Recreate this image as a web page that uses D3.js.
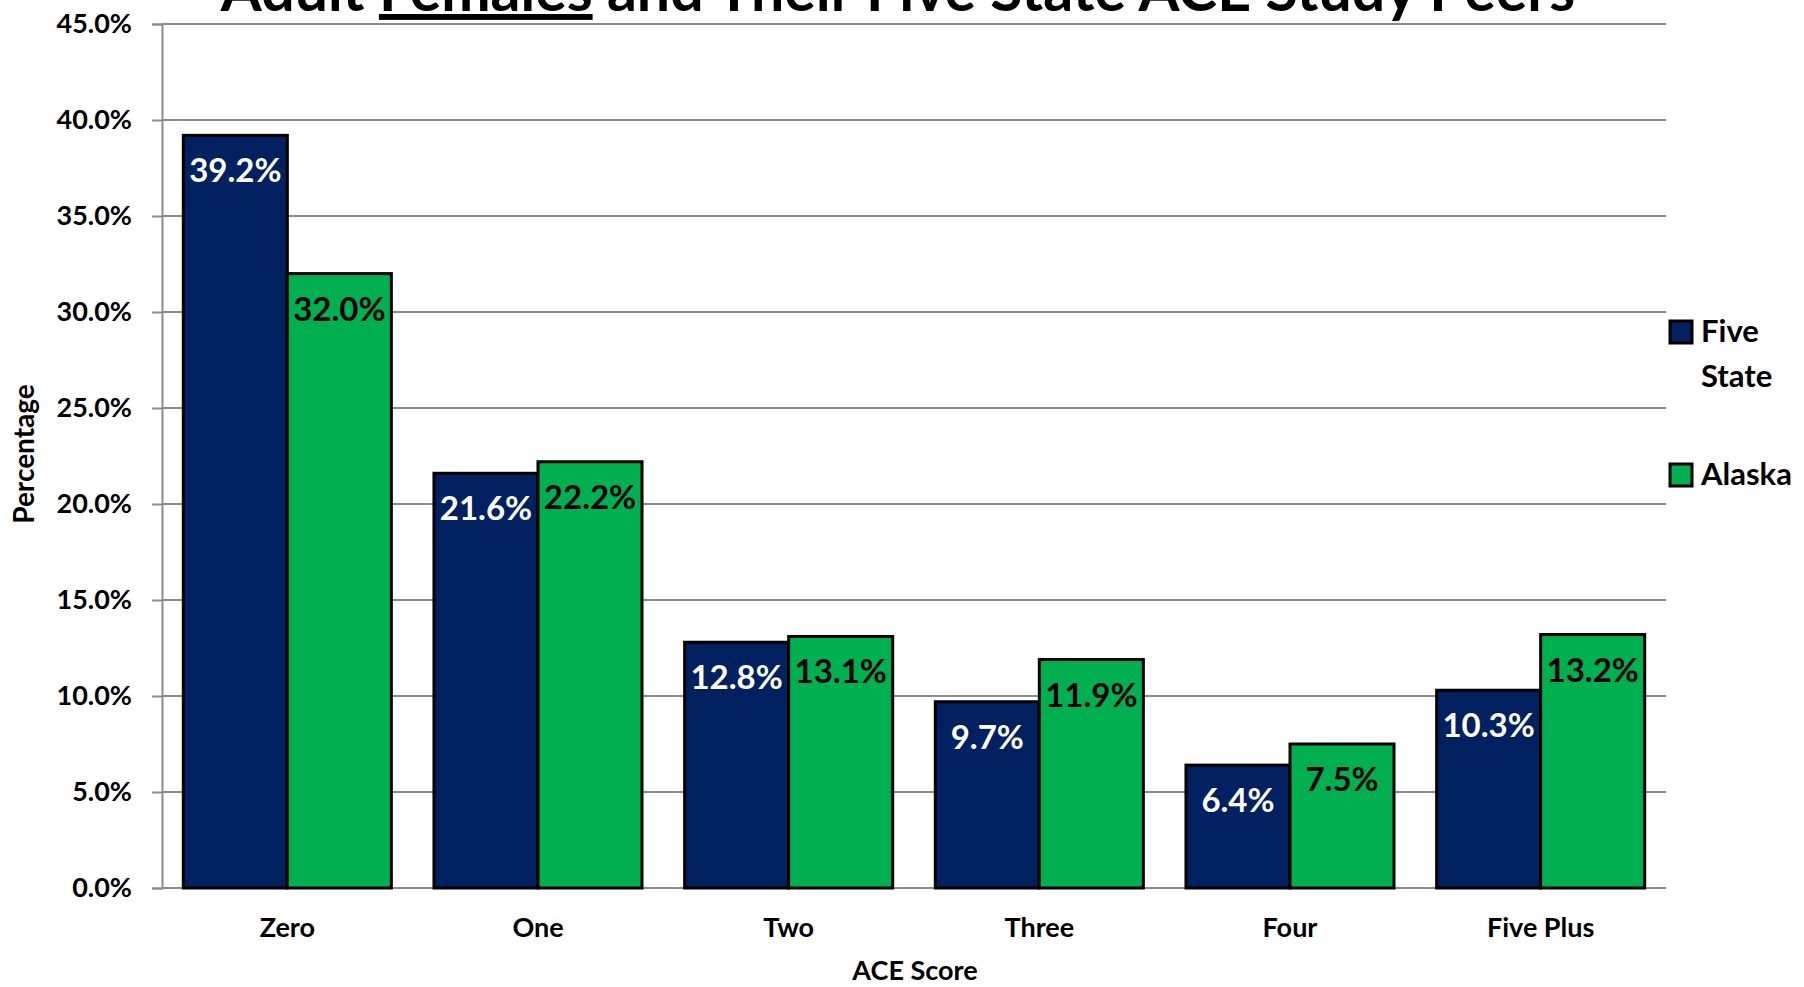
<!DOCTYPE html>
<html>
<head>
<meta charset="utf-8">
<script src="https://cdn.jsdelivr.net/npm/d3@7"></script>
<style>
	body { margin: 0; background: #fff; }
	svg { display: block; font-family: Lato, "Open Sans", sans-serif; font-weight: bold; }
</style>
</head>
<body>
<svg id="chart"></svg>
<script>
var categories = ["Zero", "One", "Two", "Three", "Four", "Five Plus"];
var seriesNames = ["Five State", "Alaska"];
var fiveState = [39.2, 21.6, 12.8, 9.7, 6.4, 10.3];
var alaska = [32.0, 22.2, 13.1, 11.9, 7.5, 13.2];
var yTicks = [0, 5, 10, 15, 20, 25, 30, 35, 40, 45];
var colors = ["#002060", "#00B050"];
var labelColors = ["#ffffff", "#000000"];

(function() {
	var width = 1804;
	var height = 987;
	var svg = d3.select("#chart").attr("width", width).attr("height", height);

	var plotLeft = 162, plotRight = 1666, plotTop = 24, plotBottom = 888;

	var x = d3.scaleBand().domain(categories).range([plotLeft, plotRight]).paddingInner(0.17).paddingOuter(0.085);
	var x1 = d3.scaleBand().domain(seriesNames).range([0, x.bandwidth()]);
	var y = d3.scaleLinear().domain([0, 45]).range([plotBottom, plotTop]);

	// gridlines
	svg.append("g").selectAll("line").data(yTicks).enter().append("line")
		.attr("x1", plotLeft).attr("x2", plotRight)
		.attr("y1", function(d) { return y(d); }).attr("y2", function(d) { return y(d); })
		.style("stroke", "#8c8c8c").style("stroke-width", 2);

	// y axis
	var yAxis = d3.axisLeft(y).tickValues(yTicks).tickSize(10).tickPadding(20)
		.tickFormat(function(d) { return d.toFixed(1) + "%"; });
	var gy = svg.append("g").attr("transform", "translate(" + plotLeft + ",0)").call(yAxis);
	gy.select(".domain").style("stroke", "#8c8c8c").style("stroke-width", 2);
	gy.selectAll(".tick line").style("stroke", "#8c8c8c").style("stroke-width", 2);
	gy.selectAll("text").style("font-size", "27px").style("font-family", "Lato").style("font-weight", "bold").style("fill", "#000");

	// bars
	var rows = categories.map(function(c, i) {
		return { cat: c, values: [fiveState[i], alaska[i]] };
	});
	var groups = svg.append("g").selectAll("g").data(rows).enter().append("g")
		.attr("transform", function(d) { return "translate(" + x(d.cat) + ",0)"; });

	var cells = function(d) {
		return d.values.map(function(v, j) { return { s: seriesNames[j], v: v, j: j }; });
	};

	groups.selectAll("rect").data(cells).enter().append("rect")
		.attr("x", function(d) { return x1(d.s); })
		.attr("y", function(d) { return y(d.v); })
		.attr("width", x1.bandwidth())
		.attr("height", function(d) { return y(0) - y(d.v); })
		.style("fill", function(d) { return colors[d.j]; })
		.style("stroke", "#000").style("stroke-width", 3);

	groups.selectAll("text").data(cells).enter().append("text")
		.attr("x", function(d) { return x1(d.s) + x1.bandwidth() / 2; })
		.attr("y", function(d) { return y(d.v) + 47; })
		.attr("text-anchor", "middle")
		.style("font-size", "33px")
		.style("fill", function(d) { return labelColors[d.j]; })
		.text(function(d) { return d.v.toFixed(1) + "%"; });

	// category labels
	svg.append("g").selectAll("text").data(categories).enter().append("text")
		.attr("x", function(d) { return x(d) + x.bandwidth() / 2; })
		.attr("y", 937)
		.attr("text-anchor", "middle")
		.style("font-size", "27px")
		.text(function(d) { return d; });

	// axis titles
	svg.append("text").attr("x", 915).attr("y", 980).attr("text-anchor", "middle")
		.style("font-size", "27px").text("ACE Score");
	svg.append("text").attr("transform", "translate(34,454) rotate(-90)").attr("text-anchor", "middle")
		.style("font-size", "28px").text("Percentage");

	// title (top is cut off in the original)
	var title = svg.append("text").attr("x", 898).attr("y", 11).attr("text-anchor", "middle")
		.style("font-size", "59px");
	title.append("tspan").text("Adult ");
	title.append("tspan").style("text-decoration", "underline").text("Females");
	title.append("tspan").text(" and Their Five State ACE Study Peers");

	// legend
	var legendData = [
		{ lines: ["Five", "State"], y: 321, c: colors[0] },
		{ lines: ["Alaska"], y: 464, c: colors[1] }
	];
	var lg = svg.append("g").selectAll("g").data(legendData).enter().append("g");
	lg.append("rect").attr("x", 1670).attr("y", function(d) { return d.y; })
		.attr("width", 22).attr("height", 22)
		.style("fill", function(d) { return d.c; }).style("stroke", "#000").style("stroke-width", 3);
	lg.each(function(d) {
		var t = d3.select(this).append("text").attr("x", 1701).attr("y", d.y + 21).style("font-size", "31px");
		d.lines.forEach(function(l, k) {
			t.append("tspan").attr("x", 1701).attr("dy", k == 0 ? 0 : 45).text(l);
		});
	});
})();
</script>
</body>
</html>
